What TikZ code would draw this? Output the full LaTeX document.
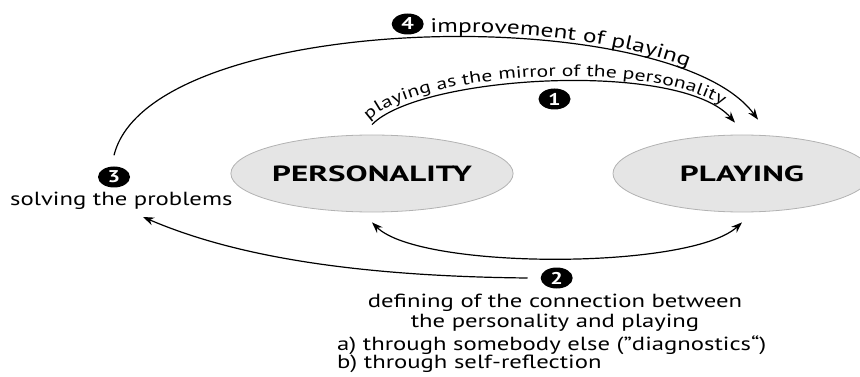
\documentclass[tikz,border=0pt]{standalone}
\usepackage{fontspec}
\setmainfont{PT Sans}[FakeStretch=1.3]
\newfontfamily\headfont{PT Sans}[FakeStretch=1.5]
\usetikzlibrary{arrows.meta,decorations.text,shapes.geometric,calc}

\newcommand{\txtfont}{\fontsize{19}{22}\selectfont}
\newcommand{\arcafont}{\fontsize{16.6}{16.6}\selectfont}
\newcommand{\arcbfont}{\fontsize{19.5}{19.5}\selectfont}

\begin{document}
\begin{tikzpicture}[x=1pt,y=1pt,
  tip/.tip={Stealth[length=11pt,width=8pt]},
  conn/.style={line width=1.2pt,-tip},
  twoway/.style={line width=1.2pt,tip-tip},
  badge/.style={ellipse,fill=black,minimum width=32pt,minimum height=21pt,
    inner sep=0pt,text=white,font=\bfseries\fontsize{17}{17}\selectfont},
  oval/.style={ellipse,draw=gray!60,fill=gray!20,line width=0.8pt,
    minimum width=258pt,minimum height=77pt,inner sep=0pt,
    font=\headfont\bfseries\fontsize{22}{22}\selectfont},
  lbl/.style={font=\txtfont,inner sep=0pt}]
\useasboundingbox (0,0) rectangle (860,-377);
\begin{scope}
\clip (0,0) rectangle (860,-377);

% the two concepts
\node[oval] (pers) at (372,-173.5) {PERSONALITY};
\node[oval] (play) at (742,-173.5) {PLAYING};

% numbered steps
\node[badge] (n4) at (407.7,-24) {4};
\node[badge] (n1) at (554.5,-99) {1};
\node[badge] (n3) at (114,-177) {3};
\node[badge] (n2) at (556.7,-278) {2};

% labels
\node[lbl,anchor=base west] (sol) at (10,-205) {solving the problems};
\node[lbl,anchor=base] (def1) at (555,-307.7) {defining of the connection between};
\node[lbl,anchor=base] (def2) at (555,-327.7) {the personality and playing};
\node[lbl,anchor=base west] (opta) at (337,-350) {a) through somebody else (”diagnostics“)};
\node[lbl,anchor=base west] (optb) at (337,-368.3) {b) through self-reflection};
\coordinate (solin) at (143,-217);

% 1: playing as the mirror of the personality
\draw[conn] ([yshift=10pt]pers.north) .. controls (420,-75) and (680,-60) .. ([xshift=-7pt,yshift=12pt]play.north);
\path[decorate,decoration={text along path,raise=5pt,
    text={|\arcafont|playing as the mirror of the personality}}]
  ([yshift=10pt]pers.north) .. controls (420,-75) and (680,-60) .. ([xshift=-7pt,yshift=12pt]play.north);

% 2: defining the connection
\draw[twoway] ([yshift=-10pt]pers.south) .. controls (420,-270) and (690,-270) .. ([yshift=-10pt]play.south);
\draw[conn] ([xshift=-13pt]n2.west) .. controls (330,-276) and (220,-250) .. (solin);

% 4: improvement of playing
\draw[conn] ([yshift=11pt]n3.north) .. controls (150,-10) and (670,0) .. ([xshift=16pt,yshift=15pt]play.north);
\path[decorate,decoration={text along path,raise=5pt,text align={left indent=355pt},
    text={|\arcbfont|improvement of playing}}]
  ([yshift=11pt]n3.north) .. controls (150,-10) and (670,0) .. ([xshift=16pt,yshift=15pt]play.north);
\end{scope}
\end{tikzpicture}
\end{document}
